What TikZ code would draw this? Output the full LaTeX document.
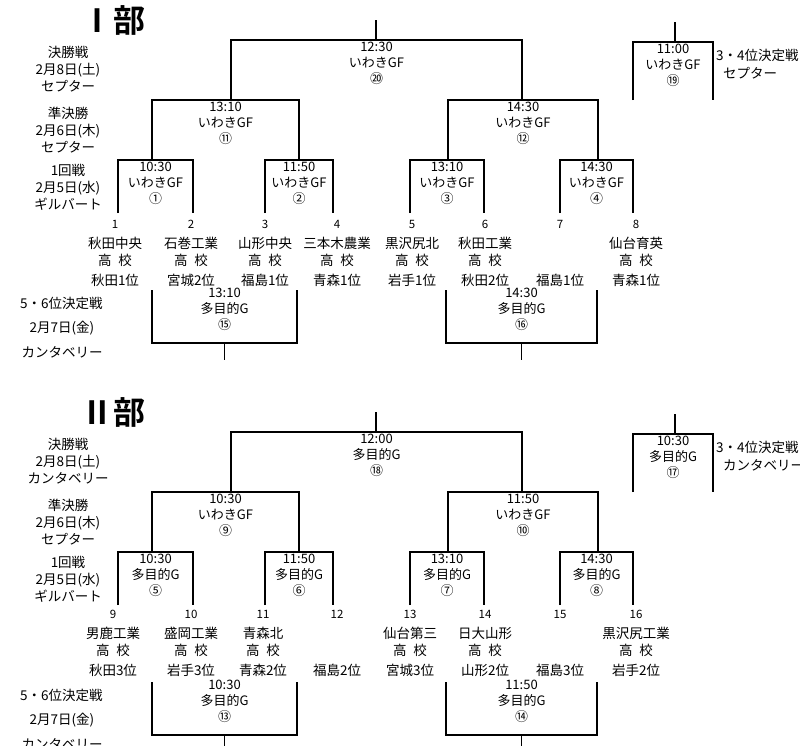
\documentclass[tikz,border=0pt]{standalone}
\usepackage{fontspec}
\setmainfont{Noto Sans CJK JP}
\newfontfamily\titlefont{Noto Sans CJK JP Bold}
\tikzset{
  bracket/.style={line width=1.8pt},
  info/.style={align=center, font=\fontsize{13}{16}\selectfont, inner sep=0pt},
  team/.style={font=\fontsize{13.5}{14}\selectfont, inner sep=0pt},
  num/.style={font=\fontsize{11.5}{12}\selectfont, inner sep=0pt},
  side/.style={align=center, font=\fontsize{13.5}{17}\selectfont, inner sep=0pt},
}
% 出場校: x/番号/校名/順位/高校の有無
\newcommand\teamrow[5]{%
  \node[num] at (#1,224) {#2};
  \node[team] at (#1,243) {#3};
  \ifnum#5=1 \node[team] at (#1,260) {高\enspace 校};\fi
  \node[team] at (#1,280) {#4};
}
\begin{document}
\begin{tikzpicture}[x=1pt, y=-1pt]
  \useasboundingbox (0,0) rectangle (800,745);
  \foreach \sec/\fin/\fday/\semi/\vA/\vB/\vC/\vD/\vE/\vF/\vG/\vH/\part in {
    Ⅰ部/{12:30\\いわきGF\\⑳}/セプター/{13:10\\いわきGF\\⑪}/{14:30\\いわきGF\\⑫}/{10:30\\いわきGF\\①}/{11:50\\いわきGF\\②}/{13:10\\いわきGF\\③}/{14:30\\いわきGF\\④}/{11:00\\いわきGF\\⑲}/{13:10\\多目的G\\⑮}/{14:30\\多目的G\\⑯}/0,
    Ⅱ部/{12:00\\多目的G\\⑱}/カンタベリー/{10:30\\いわきGF\\⑨}/{11:50\\いわきGF\\⑩}/{10:30\\多目的G\\⑤}/{11:50\\多目的G\\⑥}/{13:10\\多目的G\\⑦}/{14:30\\多目的G\\⑧}/{10:30\\多目的G\\⑰}/{10:30\\多目的G\\⑬}/{11:50\\多目的G\\⑭}/392
  } {
    \begin{scope}[shift={(0,\part)}]
      % 見出し
      \node[font=\titlefont\fontsize{32}{34}\selectfont, inner sep=0pt] (title) at (113,20) {\sec};
      % 日程
      \node[side] (dayF) at (68,69) {決勝戦\\2月8日(土)\\\fday};
      \node[side] (dayS) at (68,130) {準決勝\\2月6日(木)\\セプター};
      \node[side] (dayR) at (68,187) {1回戦\\2月5日(水)\\ギルバート};
      \node[side, anchor=west] (day56) at (20,303) {5・6位決定戦};
      \node[side] (day56b) at (62,328) {2月7日(金)};
      \node[side] (day56c) at (62,352) {カンタベリー};
      % 組み合わせ
      \foreach \l/\r/\t/\b/\m in {231/522/40/100/\fin, 152/299/100/160/\semi, 448/598/100/160/\vA,
          118/193/160/213/\vB, 265/333/160/213/\vC, 410/484/160/213/\vD, 560/633/160/213/\vE,
          633/713/42/100/\vF} {
        \draw[bracket] (\l,\b) |- (\r,\t) -- (\r,\b);
        \node[info, anchor=north] at ({(\l+\r)/2},\t+2) {\m};
      }
      \draw[bracket] (376,20) -- (376,40);
      \draw[bracket] (675,22) -- (675,42);
      \node[side, anchor=north west] (third) at (716,49) {3・4位決定戦};
      \node[side, anchor=north west] (thirdv) at (723,67) {\fday};
      % 5・6位
      \foreach \l/\r/\m in {152/297/\vG, 446/597/\vH} {
        \draw[bracket] (\l,290) |- (\r,343) -- (\r,290);
        \draw[bracket] ({(\l+\r)/2},343) -- ({(\l+\r)/2},360);
        \node[info, anchor=north] at ({(\l+\r)/2},288) {\m};
      }
    \end{scope}
  }
  % Ⅰ部 出場校
  \teamrow{115}{1}{秋田中央}{秋田1位}{1}
  \teamrow{191}{2}{石巻工業}{宮城2位}{1}
  \teamrow{265}{3}{山形中央}{福島1位}{1}
  \teamrow{337}{4}{三本木農業}{青森1位}{1}
  \teamrow{412}{5}{黒沢尻北}{岩手1位}{1}
  \teamrow{485}{6}{秋田工業}{秋田2位}{1}
  \teamrow{560}{7}{}{福島1位}{0}
  \teamrow{636}{8}{仙台育英}{青森1位}{1}
  % Ⅱ部 出場校
  \begin{scope}[shift={(0,390)}]
    \teamrow{113}{9}{男鹿工業}{秋田3位}{1}
    \teamrow{191}{10}{盛岡工業}{岩手3位}{1}
    \teamrow{263}{11}{青森北}{青森2位}{1}
    \teamrow{337}{12}{}{福島2位}{0}
    \teamrow{410}{13}{仙台第三}{宮城3位}{1}
    \teamrow{485}{14}{日大山形}{山形2位}{1}
    \teamrow{560}{15}{}{福島3位}{0}
    \teamrow{636}{16}{黒沢尻工業}{岩手2位}{1}
  \end{scope}
\end{tikzpicture}
\end{document}
